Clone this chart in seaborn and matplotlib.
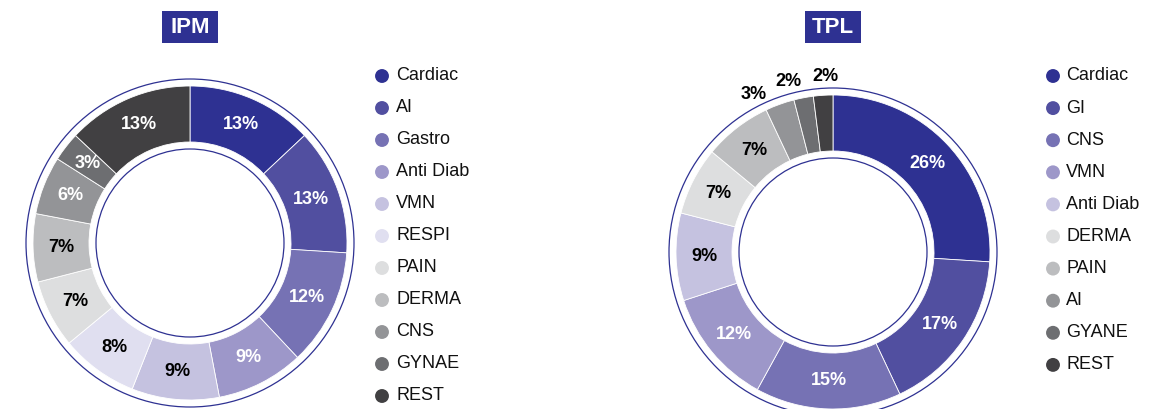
import numpy as np
import matplotlib
matplotlib.use("Agg")
import matplotlib.pyplot as plt
from matplotlib.patches import Circle, Rectangle
import seaborn as sns

# ---- data ----
ipm_categories = ["Cardiac", "AI", "Gastro", "Anti Diab", "VMN", "RESPI",
                  "PAIN", "DERMA", "CNS", "GYNAE", "REST"]
ipm_values = [13, 13, 12, 9, 9, 8, 7, 7, 6, 3, 13]

tpl_categories = ["Cardiac", "GI", "CNS", "VMN", "Anti Diab", "DERMA",
                  "PAIN", "AI", "GYANE", "REST"]
tpl_values = [26, 17, 15, 12, 9, 7, 7, 3, 2, 2]

# ---- style ----
sns.set_style("white")
plt.rcParams["font.family"] = ["Liberation Sans", "DejaVu Sans"]

NAVY = "#2E3192"
purples = ["#2E3192", "#514FA0", "#7672B4", "#9D97C9", "#C5C2E0", "#E0DFF0"]
greys = ["#DDDEDF", "#BCBDBF", "#939497", "#6D6E71", "#414042"]
ipm_colors = purples + greys
tpl_colors = purples[:5] + greys

W, H = 1161, 409
fig = plt.figure(figsize=(W / 100, H / 100), dpi=100)
ax = fig.add_axes([0, 0, 1, 1])

R_OUT, R_IN = 157, 101
RING_OUT, RING_IN = 164, 94
LABEL_R = (R_OUT + R_IN) / 2


def text_color(hex_color):
    r, g, b = matplotlib.colors.to_rgb(hex_color)
    lum = 0.299 * r + 0.587 * g + 0.114 * b
    return "white" if lum < 0.67 else "black"


def donut(values, colors, cx, cy, title, outside_below=0, outside_shift=None):
    wedges, _ = ax.pie(values, colors=colors, startangle=90, counterclock=False,
                       radius=R_OUT, center=(cx, cy),
                       wedgeprops=dict(width=R_OUT - R_IN, edgecolor="white",
                                       linewidth=0.6))
    ax.add_patch(Circle((cx, cy), RING_OUT, fill=False, edgecolor=NAVY, lw=0.9))
    ax.add_patch(Circle((cx, cy), RING_IN, fill=False, edgecolor=NAVY, lw=0.9))
    k = 0
    for w, v, c in zip(wedges, values, colors):
        mid = np.deg2rad((w.theta1 + w.theta2) / 2)
        if v < outside_below:
            # small slices get their label just outside the ring
            shift = np.deg2rad(outside_shift[k] if outside_shift else 0)
            k += 1
            x = cx + 176 * np.cos(mid + shift)
            y = cy + 176 * np.sin(mid + shift)
            col = "black"
        else:
            x = cx + LABEL_R * np.cos(mid)
            y = cy + LABEL_R * np.sin(mid)
            col = text_color(c)
        ax.text(x, y, f"{v}%", ha="center", va="center", color=col,
                fontsize=13, fontweight="bold")
    # title badge
    ax.add_patch(Rectangle((cx - 28, H - 43), 56, 32, facecolor=NAVY,
                           edgecolor="none"))
    ax.text(cx, H - 27.5, title, ha="center", va="center", color="white",
            fontsize=16, fontweight="bold")


def legend(categories, colors, mx, tx, y0, step):
    for i, (name, c) in enumerate(zip(categories, colors)):
        y = H - (y0 + step * i)
        ax.scatter([mx], [y], s=100, color=c, edgecolors="none", zorder=3)
        ax.text(tx, y, name, ha="left", va="center", fontsize=13,
                color="#111111")


donut(ipm_values, ipm_colors, 190, H - 243, "IPM")
donut(tpl_values, tpl_colors, 833, H - 252, "TPL", outside_below=5,
      outside_shift=[7, 4, -1])

legend(ipm_categories, ipm_colors, 382, 396, 76, 32.0)
legend(tpl_categories, tpl_colors, 1053, 1066, 76, 32.1)

ax.set_xlim(0, W)
ax.set_ylim(0, H)
ax.set_aspect("equal")
ax.axis("off")

fig.savefig("out.png", dpi=100)
